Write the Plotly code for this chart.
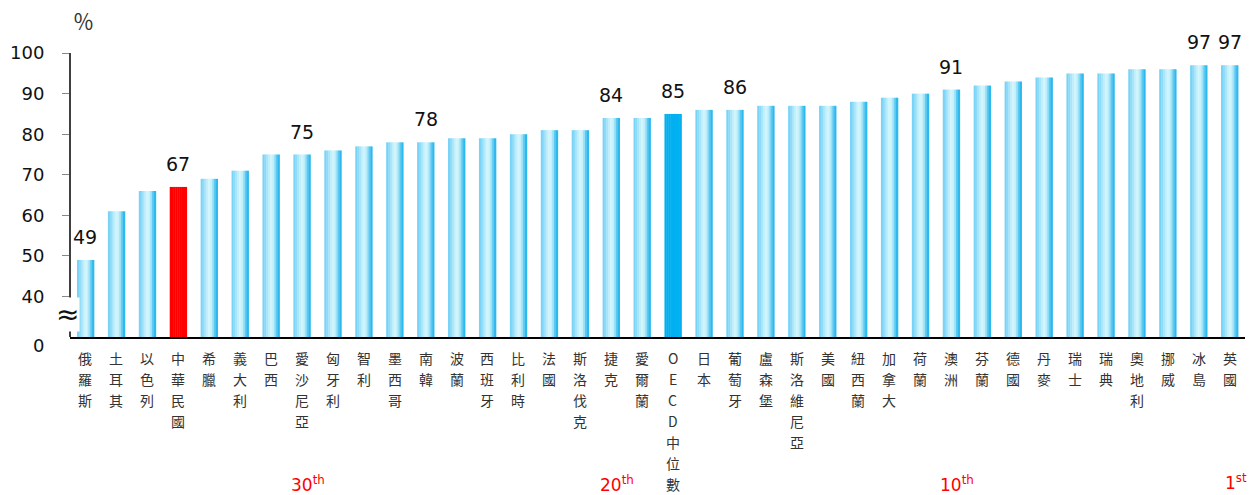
import plotly.graph_objects as go

categories = ["俄羅斯", "土耳其", "以色列", "中華民國", "希臘", "義大利", "巴西", "愛沙尼亞",
              "匈牙利", "智利", "墨西哥", "南韓", "波蘭", "西班牙", "比利時", "法國", "斯洛伐克",
              "捷克", "愛爾蘭", "OECD中位數", "日本", "葡萄牙", "盧森堡", "斯洛維尼亞", "美國",
              "紐西蘭", "加拿大", "荷蘭", "澳洲", "芬蘭", "德國", "丹麥", "瑞士", "瑞典", "奧地利",
              "挪威", "冰島", "英國"]
values = [49, 61, 66, 67, 69, 71, 75, 75, 76, 77, 78, 78, 79, 79, 80, 81, 81,
          84, 84, 85, 86, 86, 87, 87, 87, 88, 89, 90, 91, 92, 93, 94, 95, 95, 96,
          96, 97, 97]
labeled = ["俄羅斯", "中華民國", "愛沙尼亞", "南韓", "捷克", "OECD中位數", "葡萄牙", "澳洲", "冰島", "英國"]
ranks = {"愛沙尼亞": "30", "捷克": "20", "澳洲": "10", "英國": "1"}
rank_suffix = {"愛沙尼亞": "th", "捷克": "th", "澳洲": "th", "英國": "st"}
y_ticks = [40, 50, 60, 70, 80, 90, 100]

highlight = {"中華民國": "#ff0000", "OECD中位數": "#00b0f0"}
strip_colors = ["#78d3f7", "#8edbf8", "#a8e5fa", "#c0eefb", "#d2f5fc", "#c6f1fb",
                "#9de1f7", "#5cc9f2", "#2db8ee"]

BASE = 30
bar_w = 0.55
n = len(strip_colors)
sw = bar_w / n

fig = go.Figure()
for i, c in enumerate(strip_colors):
    cols = [highlight.get(cat, c) for cat in categories]
    fig.add_trace(go.Bar(
        x=categories, y=[v - BASE for v in values], base=BASE,
        width=sw + 0.012, offset=-bar_w / 2 + i * sw,
        marker=dict(color=cols, line=dict(width=0)),
        showlegend=False, hoverinfo="skip"))

annotations = []
# value labels
for cat, v in zip(categories, values):
    if cat in labeled:
        annotations.append(dict(x=cat, y=v, xref="x", yref="y", text=str(v), showarrow=False,
                                yanchor="bottom", yshift=10,
                                font=dict(family="DejaVu Sans", size=19, color="#111111")))
# vertical category labels
for cat in categories:
    for k, ch in enumerate(cat):
        annotations.append(dict(x=cat, y=0, xref="x", yref="paper", text=ch, showarrow=False,
                                yanchor="middle", yshift=-21 - k * 21.0,
                                font=dict(family="Noto Sans CJK TC", size=14, color="#333333")))
# rank labels
rank_shift = {"愛沙尼亞": -147, "捷克": -147, "澳洲": -147, "英國": -145}
for cat, r in ranks.items():
    annotations.append(dict(x=cat, y=0, xref="x", yref="paper",
                            text=r + "<sup>" + rank_suffix[cat] + "</sup>", showarrow=False,
                            yanchor="middle", xshift=6, yshift=rank_shift[cat],
                            font=dict(family="DejaVu Sans", size=17, color="#ff0000")))
# zero label, percent sign, break mark
annotations.append(dict(x=0, y=BASE, xref="paper", yref="y", text="0", showarrow=False,
                        xanchor="right", yanchor="middle", xshift=-24, yshift=-8,
                        font=dict(family="DejaVu Sans", size=18, color="#111111")))
annotations.append(dict(x=0, y=1, xref="paper", yref="paper", text="％", showarrow=False,
                        xanchor="center", yanchor="bottom", xshift=13, yshift=8,
                        font=dict(family="Noto Sans CJK TC", size=21, color="#333333")))
annotations.append(dict(x=0, y=35.5, xref="paper", yref="y", text="≈", showarrow=False,
                        xanchor="center", yanchor="middle", xshift=-3,
                        bgcolor="white", borderpad=0,
                        font=dict(family="DejaVu Sans", size=28, color="#111111")))

fig.update_layout(
    width=1249, height=495,
    margin=dict(l=70, r=4, t=45, b=158),
    plot_bgcolor="white", paper_bgcolor="white",
    barmode="overlay",
    annotations=annotations,
    xaxis=dict(range=[-0.5, len(categories) - 0.5], showticklabels=False, ticks="",
               showline=True, linecolor="#000000", linewidth=1.5, showgrid=False, zeroline=False,
               fixedrange=True),
    yaxis=dict(range=[BASE, 102], tickvals=y_ticks, ticktext=[str(t) for t in y_ticks],
               ticks="outside", ticklen=7, tickcolor="#888888", showline=False,
               ticklabelstandoff=14,
               showgrid=False, zeroline=False,
               tickfont=dict(family="DejaVu Sans", size=18, color="#111111")),
    shapes=[dict(type="line", xref="paper", yref="y", x0=0, x1=0, y0=BASE, y1=100,
                 line=dict(color="#000000", width=1.5))],
)

fig.write_html("out.html")
